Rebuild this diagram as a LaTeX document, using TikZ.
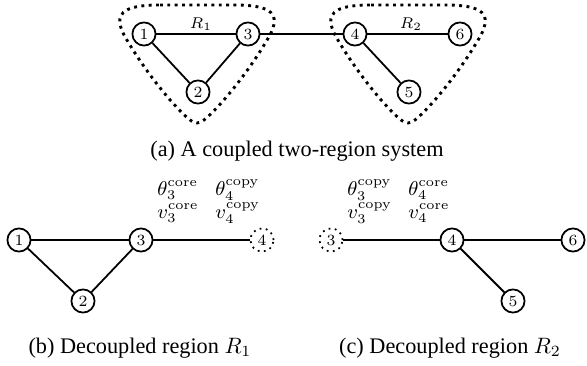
\documentclass[tikz,border=0pt]{standalone}
\usepackage{fontspec}
\usepackage{amsmath}
\newfontfamily\capfont{Liberation Serif}
\begin{document}
\begin{tikzpicture}[x=0.449pt,y=-0.449pt,
  bus/.style={circle,draw,thick,minimum size=10.4pt,inner sep=0pt,font=\scriptsize},
  ghost/.style={bus,dotted},
  edgeline/.style={thick},
  region/.style={draw,line width=1.3pt,dotted},
  lab/.style={font=\scriptsize,inner sep=0pt},
  vlab/.style={font=\small,inner sep=0pt,anchor=west},
  captxt/.style={font=\capfont,inner sep=0pt}]
\useasboundingbox (0,0) rectangle (587,366);
% (a)
\node[bus] (a1) at (144,34) {1};
\node[bus] (a3) at (248,34) {3};
\node[bus] (a2) at (198,92) {2};
\node[bus] (a4) at (355,34) {4};
\node[bus] (a6) at (460,34) {6};
\node[bus] (a5) at (409,92) {5};
\draw[edgeline] (a1) -- (a3);
\draw[edgeline] (a1) -- (a2);
\draw[edgeline] (a2) -- (a3);
\draw[edgeline] (a3) -- (a4);
\draw[edgeline] (a4) -- (a6);
\draw[edgeline] (a4) -- (a5);
\node[lab] (r1) at (201,24) {$R_1$};
\node[lab] (r2) at (411,24) {$R_2$};
\foreach \dx in {0,211} {
  \begin{scope}[shift={(\dx,0)}]
    \draw[region] (160,5) -- (234,5)
      .. controls (274,5) and (280,15) .. (270,35)
      .. controls (249,72) and (219,108) .. (204,120)
      .. controls (198,124) and (196,124) .. (190,120)
      .. controls (175,108) and (145,72) .. (124,35)
      .. controls (114,15) and (120,5) .. (160,5) -- cycle;
  \end{scope}
}
\node[captxt] (capa) at (297,151) {(a) A coupled two-region system};
% (b)
\node[bus] (b1) at (19,240) {1};
\node[bus] (b3) at (141,240) {3};
\node[bus] (b2) at (83,301) {2};
\node[ghost] (b4) at (262,240) {4};
\draw[edgeline] (b1) -- (b3);
\draw[edgeline] (b1) -- (b2);
\draw[edgeline] (b2) -- (b3);
\draw[edgeline] (b3) -- (b4);
\node[vlab] (b3t) at (157,190) {$\theta_3^{\text{core}}$};
\node[vlab] (b3v) at (157,213) {$v_3^{\text{core}}$};
\node[vlab] (b4t) at (215,190) {$\theta_4^{\text{copy}}$};
\node[vlab] (b4v) at (215,213) {$v_4^{\text{copy}}$};
\node[captxt] (capb) at (140,348) {(b) Decoupled region $R_1$};
% (c)
\node[ghost] (c3) at (331,240) {3};
\node[bus] (c4) at (452,240) {4};
\node[bus] (c6) at (573,240) {6};
\node[bus] (c5) at (513,301) {5};
\draw[edgeline] (c3) -- (c4);
\draw[edgeline] (c4) -- (c6);
\draw[edgeline] (c4) -- (c5);
\node[vlab] (c3t) at (347,190) {$\theta_3^{\text{copy}}$};
\node[vlab] (c3v) at (347,213) {$v_3^{\text{copy}}$};
\node[vlab] (c4t) at (408,190) {$\theta_4^{\text{core}}$};
\node[vlab] (c4v) at (408,213) {$v_4^{\text{core}}$};
\node[captxt] (capc) at (450,348) {(c) Decoupled region $R_2$};
\end{tikzpicture}
\end{document}
